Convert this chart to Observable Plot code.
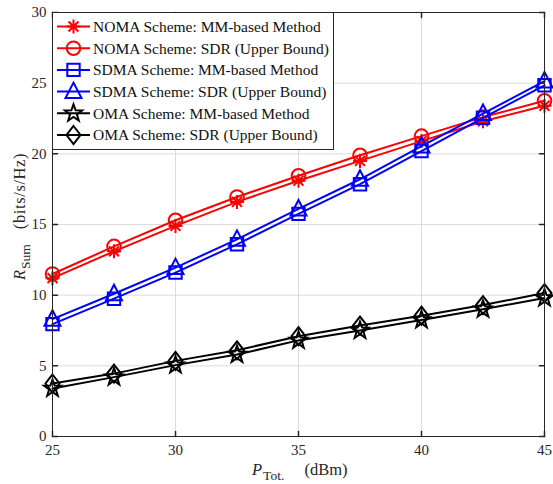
<!DOCTYPE html>
<html><head><meta charset="utf-8">
<script src="https://cdn.jsdelivr.net/npm/d3@7"></script>
<script src="https://cdn.jsdelivr.net/npm/@observablehq/plot@0.6"></script>
<style>
body{margin:0;background:#fff;}
svg{font-family:"Liberation Serif","Times New Roman",serif;}
</style>
</head><body><div id="chart"></div>
<script>
// ---- data ----
const power = [25, 27.5, 30, 32.5, 35, 37.5, 40, 42.5, 45];
const nomaMM  = [11.2, 13.1, 14.9, 16.6, 18.1, 19.5, 20.9, 22.3, 23.4];
const nomaSDR = [11.5, 13.45, 15.3, 16.95, 18.45, 19.9, 21.25, 22.6, 23.75];
const sdmaMM  = [7.95, 9.75, 11.6, 13.6, 15.75, 17.85, 20.2, 22.55, 24.85];
const sdmaSDR = [8.3, 10.1, 11.95, 13.95, 16.1, 18.2, 20.55, 22.85, 25.15];
const omaMM   = [3.4, 4.2, 5.05, 5.8, 6.8, 7.5, 8.25, 9.0, 9.8];
const omaSDR  = [3.75, 4.45, 5.35, 6.1, 7.1, 7.85, 8.55, 9.3, 10.15];
const seriesNames = [
  "NOMA Scheme: MM-based Method",
  "NOMA Scheme: SDR (Upper Bound)",
  "SDMA Scheme: MM-based Method",
  "SDMA Scheme: SDR (Upper Bound)",
  "OMA Scheme: MM-based Method",
  "OMA Scheme: SDR (Upper Bound)"
];
const xTicks = [25, 30, 35, 40, 45];
const yTicks = [0, 5, 10, 15, 20, 25, 30];

// ---- marker shapes (MATLAB-like) ----
const asterisk = {draw(c){const r=7,d=r*Math.SQRT1_2;c.moveTo(0,-r);c.lineTo(0,r);c.moveTo(-r,0);c.lineTo(r,0);c.moveTo(-d,-d);c.lineTo(d,d);c.moveTo(-d,d);c.lineTo(d,-d);}};
const circle = {draw(c){const r=6.8;c.moveTo(r,0);c.arc(0,0,r,0,2*Math.PI);c.closePath();}};
const square = {draw(c){const h=6.2;c.moveTo(-h,-h);c.lineTo(h,-h);c.lineTo(h,h);c.lineTo(-h,h);c.closePath();}};
const triangle = {draw(c){c.moveTo(0,-9);c.lineTo(8,6.5);c.lineTo(-8,6.5);c.closePath();}};
const star = {draw(c){const R=9,r=3.6;for(let i=0;i<10;i++){const a=-Math.PI/2+i*Math.PI/5,rr=i%2?r:R;const x=rr*Math.cos(a),y=rr*Math.sin(a);i?c.lineTo(x,y):c.moveTo(x,y);}c.closePath();}};
const diamond = {draw(c){c.moveTo(0,-9);c.lineTo(7,0);c.lineTo(0,9);c.lineTo(-7,0);c.closePath();}};

const series = [
  {name: seriesNames[0], values: nomaMM,  color: "#ff0000", symbol: asterisk},
  {name: seriesNames[1], values: nomaSDR, color: "#ff0000", symbol: circle},
  {name: seriesNames[2], values: sdmaMM,  color: "#0000ff", symbol: square},
  {name: seriesNames[3], values: sdmaSDR, color: "#0000ff", symbol: triangle},
  {name: seriesNames[4], values: omaMM,   color: "#000000", symbol: star},
  {name: seriesNames[5], values: omaSDR,  color: "#000000", symbol: diamond}
];

const tickShape = {draw(c, l){c.moveTo(0,0);c.lineTo(0,-l);}};

const marks = [
  Plot.gridX(xTicks, {stroke: "#dcdcdc", strokeOpacity: 1, strokeWidth: 1}),
  Plot.gridY(yTicks, {stroke: "#dcdcdc", strokeOpacity: 1, strokeWidth: 1}),
];
for (const s of series) {
  const rows = power.map((p, j) => ({x: p, y: s.values[j]}));
  marks.push(Plot.line(rows, {x: "x", y: "y", stroke: s.color, strokeWidth: 2}));
  marks.push(Plot.dot(rows, {x: "x", y: "y", stroke: s.color, strokeWidth: 2, fill: "none", symbol: s.symbol}));
}
marks.push(
  Plot.frame({stroke: "#262626", strokeWidth: 1}),
  Plot.vectorX(xTicks, {x: d => d, frameAnchor: "bottom", length: 5, anchor: "start", shape: tickShape, stroke: "#262626"}),
  Plot.vectorX(xTicks, {x: d => d, frameAnchor: "top", rotate: 180, length: 5, anchor: "start", shape: tickShape, stroke: "#262626"}),
  Plot.vectorY(yTicks, {y: d => d, frameAnchor: "left", rotate: 90, length: 5, anchor: "start", shape: tickShape, stroke: "#262626"}),
  Plot.vectorY(yTicks, {y: d => d, frameAnchor: "right", rotate: -90, length: 5, anchor: "start", shape: tickShape, stroke: "#262626"}),
  Plot.axisX(xTicks, {tickSize: 0, tickPadding: 8, fontSize: 15, label: null, color: "#262626"}),
  Plot.axisY(yTicks, {tickSize: 0, tickPadding: 6, fontSize: 15, label: null, color: "#262626"})
);

const chart = Plot.plot({
  width: 553, height: 484,
  marginLeft: 52, marginRight: 9, marginTop: 12, marginBottom: 48,
  x: {domain: [25, 45]},
  y: {domain: [0, 30]},
  style: {fontFamily: '"Liberation Serif","Times New Roman",serif', background: "#fff"},
  marks
});
document.getElementById("chart").appendChild(chart);

// ---- axis labels and legend ----
const svg = d3.select(chart);
const xs = chart.scale("x"), ys = chart.scale("y");
const pLeft = xs.range[0], pRight = xs.range[1], pTop = ys.range[1], pBottom = ys.range[0];

// x label: P_Tot. (dBm)
const xl1 = svg.append("text").attr("x", 252).attr("y", 475)
  .attr("text-anchor", "start").attr("font-size", 16.5).attr("fill", "#262626");
xl1.append("tspan").attr("font-style", "italic").text("P");
xl1.append("tspan").attr("font-size", 13.5).attr("dy", 5).attr("dx", 1).text("Tot.");
svg.append("text").attr("x", 326).attr("y", 475).attr("text-anchor", "middle")
  .attr("font-size", 16.5).attr("fill", "#262626").text("(dBm)");

// y label: R_Sum (bits/s/Hz)
const yl1 = svg.append("text").attr("transform", "translate(25,280) rotate(-90)")
  .attr("text-anchor", "start").attr("font-size", 16.5).attr("fill", "#262626");
yl1.append("tspan").attr("font-style", "italic").text("R");
yl1.append("tspan").attr("font-size", 13.5).attr("dy", 5).attr("dx", 1).text("Sum");
svg.append("text").attr("transform", "translate(25,191) rotate(-90)")
  .attr("text-anchor", "middle").attr("font-size", 16.5).attr("letter-spacing", 0.6)
  .attr("fill", "#262626").text("(bits/s/Hz)");

const lg = svg.append("g");
lg.append("rect").attr("x", pLeft + 0.5).attr("y", pTop + 0.5).attr("width", 281).attr("height", 137)
  .attr("fill", "#fff").attr("stroke", "#262626").attr("stroke-width", 1);
series.forEach((s, i) => {
  const cy = pTop + 14.5 + i * 21.7;
  lg.append("line").attr("x1", pLeft + 5).attr("x2", pLeft + 38).attr("y1", cy).attr("y2", cy)
    .attr("stroke", s.color).attr("stroke-width", 2);
  lg.append("path").attr("d", d3.symbol(s.symbol)()).attr("transform", `translate(${pLeft + 21.5},${cy})`)
    .attr("fill", "none").attr("stroke", s.color).attr("stroke-width", 2);
  lg.append("text").attr("x", pLeft + 41).attr("y", cy).attr("dy", "0.35em").attr("text-anchor", "start")
    .attr("font-size", 15.5).attr("fill", "#111").text(s.name);
});
</script>
</body></html>
